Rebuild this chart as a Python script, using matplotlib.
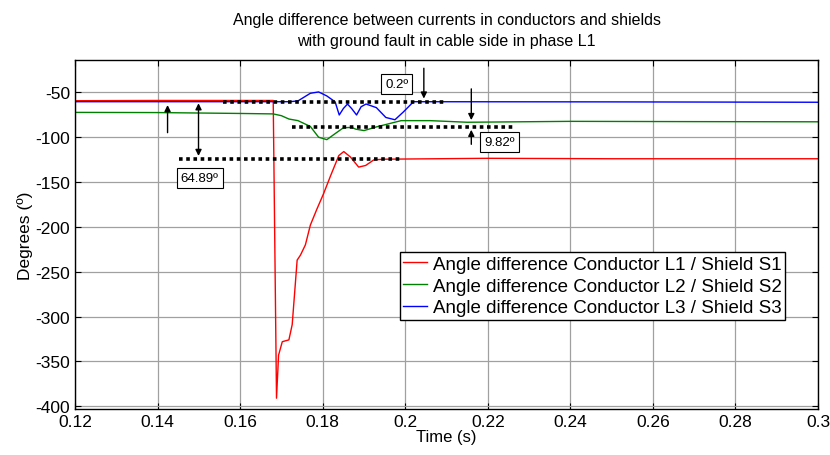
import matplotlib
matplotlib.use('Agg')
import matplotlib.pyplot as plt

plt.rcParams['font.family'] = ['Liberation Sans', 'DejaVu Sans']
plt.rcParams['axes.unicode_minus'] = False

# red: conductor L1 / shield S1
t_red = [0.12, 0.14, 0.1680, 0.1681, 0.1688, 0.1693, 0.1702, 0.1718, 0.1726, 0.1738,
         0.1746, 0.1758, 0.1770, 0.1786, 0.1802, 0.1819, 0.1839, 0.1851, 0.1867,
         0.1887, 0.1904, 0.1924, 0.195, 0.2, 0.22, 0.25, 0.3]
a_red = [-59.3, -59.0, -59.0, -100, -391, -343, -328, -326, -309, -237,
         -231.5, -220, -198, -180, -163, -143, -120.4, -116, -122,
         -133.3, -131.5, -125.2, -124.5, -124.3, -123.5, -124, -124]

# green: conductor L2 / shield S2
t_green = [0.12, 0.14, 0.16, 0.168, 0.170, 0.1718, 0.1740, 0.1770, 0.1790, 0.1810,
           0.1830, 0.1850, 0.1870, 0.1880, 0.1900, 0.1930, 0.1960, 0.1990, 0.2060,
           0.2150, 0.24, 0.27, 0.3]
a_green = [-72.3, -72.5, -73.5, -74, -76, -79.7, -81.5, -88, -100, -102.7,
           -96, -89.5, -89, -91, -92.6, -88.5, -85, -81.5, -81.5,
           -83.3, -82.3, -82.6, -82.8]

# blue: conductor L3 / shield S3
t_blue = [0.12, 0.15, 0.1720, 0.1740, 0.1770, 0.1790, 0.1810, 0.1830, 0.1840, 0.1850,
          0.1860, 0.1870, 0.1882, 0.1893, 0.1905, 0.1930, 0.1953, 0.1975, 0.1995,
          0.2020, 0.25, 0.3]
a_blue = [-60.4, -60.4, -60.4, -59.5, -51, -49.5, -54, -60.5, -75.2, -68,
          -63, -68, -75.2, -66, -63, -67, -78, -80.5, -72,
          -60.4, -60.6, -61]

labels = ['Angle difference Conductor L1 / Shield S1',
          'Angle difference Conductor L2 / Shield S2',
          'Angle difference Conductor L3 / Shield S3']

xticks = [0.12, 0.14, 0.16, 0.18, 0.2, 0.22, 0.24, 0.26, 0.28, 0.3]
xticklabels = ['0.12', '0.14', '0.16', '0.18', '0.2', '0.22', '0.24', '0.26', '0.28', '0.3']
yticks = [-400, -350, -300, -250, -200, -150, -100, -50]

# dotted reference levels: (x start, x end, level)
levels = [(0.1558, 0.2098, -60.4), (0.1726, 0.2263, -88.2), (0.1451, 0.1988, -124.5)]

fig = plt.figure(figsize=(8.3, 4.56), dpi=100)
ax = fig.add_axes([0.0905, 0.101, 0.895, 0.765])

ax.plot(t_red, a_red, color='#ff0000', lw=1.0, label=labels[0])
ax.plot(t_green, a_green, color='#008000', lw=1.0, label=labels[1])
ax.plot(t_blue, a_blue, color='#0000ff', lw=1.0, label=labels[2])

for x0, x1, lv in levels:
    ax.plot([x0, x1], [lv, lv], color='black', ls=(0, (1, 1)), lw=2.6)

ap = dict(arrowstyle='-|>', color='black', lw=1.0, mutation_scale=9)
ap2 = dict(arrowstyle='<|-|>', color='black', lw=1.0, mutation_scale=9)
ax.annotate('', xy=(0.1424, -61), xytext=(0.1424, -98), arrowprops=ap)
ax.annotate('', xy=(0.1499, -59), xytext=(0.1499, -124), arrowprops=ap2)
ax.annotate('', xy=(0.2045, -60), xytext=(0.2045, -20), arrowprops=ap)
ax.annotate('', xy=(0.2160, -84), xytext=(0.2160, -43), arrowprops=ap)
ax.annotate('', xy=(0.2160, -88.6), xytext=(0.2160, -111), arrowprops=ap)

bb = dict(boxstyle='square,pad=0.3', fc='white', ec='black', lw=0.8)
ax.text(0.1979, -40.8, '0.2º', fontsize=9.5, ha='center', va='center', bbox=bb)
ax.text(0.2228, -105.3, '9.82º', fontsize=9.5, ha='center', va='center', bbox=bb)
ax.text(0.1502, -145.2, '64.89º', fontsize=9.5, ha='center', va='center', bbox=bb)

ax.set_xlim(0.12, 0.3)
ax.set_ylim(-403, -14)
ax.set_xticks(xticks)
ax.set_xticklabels(xticklabels)
ax.set_yticks(yticks)
ax.grid(True, color='#a0a0a0', lw=0.9)
ax.tick_params(direction='in', top=True, right=True, labelsize=12.5, length=4)
for s in ax.spines.values():
    s.set_linewidth(1.0)

ax.set_xlabel('Time (s)', fontsize=12, labelpad=0)
ax.set_ylabel('Degrees (º)', fontsize=12.5, labelpad=2)
ax.set_title('Angle difference between currents in conductors and shields\n'
             'with ground fault in cable side in phase L1', fontsize=11.5, pad=11,
             linespacing=1.45)

leg = ax.legend(loc='upper left', bbox_to_anchor=(0.437, 0.45), fontsize=13.5,
                fancybox=False, edgecolor='black', framealpha=1,
                handlelength=1.25, borderpad=0.2, labelspacing=0.25,
                handletextpad=0.3, borderaxespad=0)
leg.get_frame().set_linewidth(1.0)

fig.savefig('out.png', dpi=100)
